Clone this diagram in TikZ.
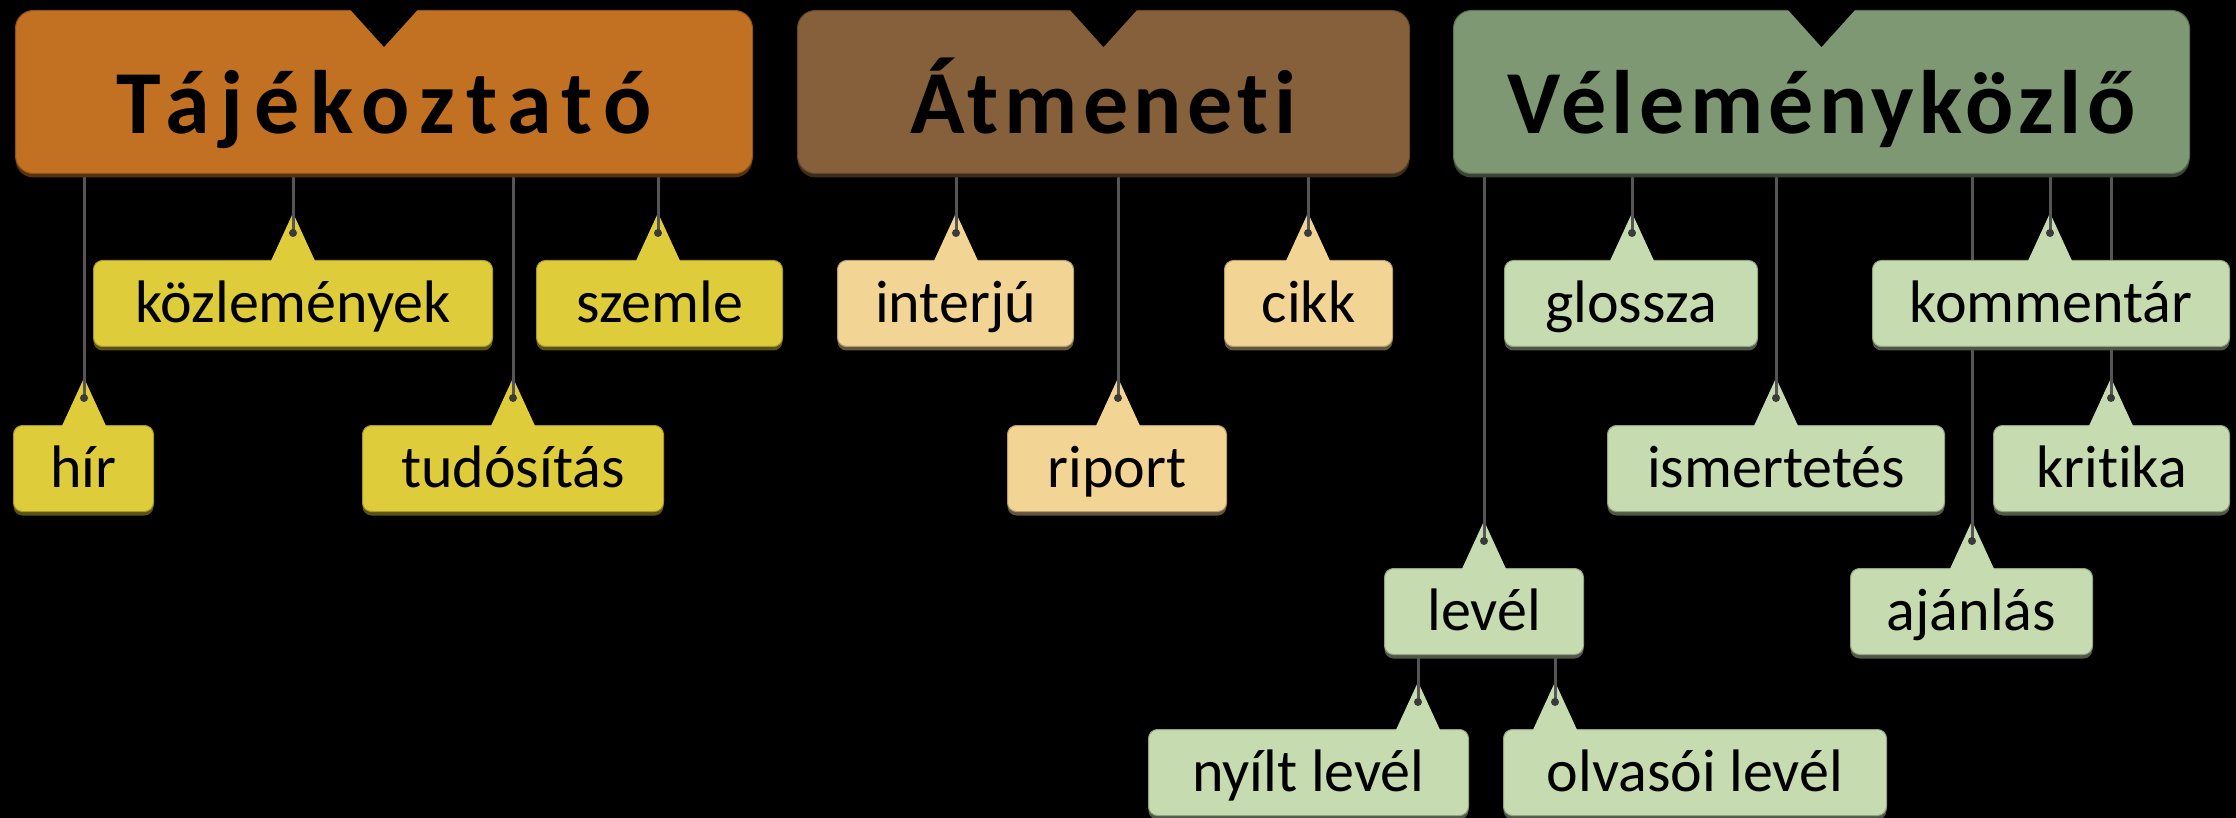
\documentclass[tikz,border=0pt]{standalone}
\usepackage{fontspec}
\setmainfont[Ligatures=NoCommon]{Carlito}
\newfontfamily\headA[LetterSpace=12,Ligatures=NoCommon]{Carlito}
\newfontfamily\headB[LetterSpace=6,Ligatures=NoCommon]{Carlito}
\usetikzlibrary{shadows}
\definecolor{hOrange}{HTML}{C27022}
\definecolor{hBrown}{HTML}{86603B}
\definecolor{hGreen}{HTML}{7E9873}
\definecolor{lYellow}{HTML}{DFCC3B}
\definecolor{lTan}{HTML}{F2D494}
\definecolor{lGreen}{HTML}{C6DBAF}
\definecolor{lineGray}{HTML}{555555}
\definecolor{dotGray}{HTML}{3A3A3A}
\pgfdeclarelayer{back}
\pgfdeclarelayer{bg}
\pgfsetlayers{back,bg,main}
\tikzset{
  leafbox/.style={rounded corners=9pt, inner sep=0pt, minimum height=86pt,
    text height=38pt, text depth=0pt, font=\fontsize{60}{70}\selectfont,
    line width=1pt, fill=#1, draw=#1!75!black,
    general shadow={fill=#1!40!black, shadow yshift=-4pt}},
  headbox/.style={rounded corners=18pt, inner sep=0pt, minimum height=163pt,
    text height=83pt, text depth=0pt, font=\fontsize{90}{100}\selectfont\bfseries,
    line width=1pt, fill=#1, draw=#1!75!black,
    general shadow={fill=#1!45!black, shadow yshift=-4pt}},
  conn/.style={draw=lineGray, line width=3pt},
}
% name, left, right, top, tab x, colour, text
\newcommand\leaf[7]{%
  \node[leafbox=#6, anchor=north west, minimum width={(#3)-(#2)}] (#1) at (#2,#4) {#7};
  \coordinate (#1-t) at (#5,#4-47);
  \coordinate (#1-d) at (#5,#4-27);
  \fill[#6] (#5-23,#4+3) -- (#1-t) -- (#5+23,#4+3) -- cycle;
  \draw[conn] (#1-t) -- (#1-d);
  \fill[dotGray] (#1-d) circle (4pt);
}
\newcommand\notch[1]{%
  \fill[black] ([xshift=-37pt,yshift=4pt]#1.north) -- ([yshift=-37pt]#1.north)
    -- ([xshift=37pt,yshift=4pt]#1.north) -- cycle;
}
\begin{document}
\begin{tikzpicture}[x=1pt,y=-1pt]
\begin{pgfonlayer}{back}
  \fill[black] (0,0) rectangle (2236,818);
\end{pgfonlayer}
\path[use as bounding box] (0,0) rectangle (2236,818);

\node[headbox=hOrange, anchor=north west, minimum width=737pt] (taj) at (15,10) {\headA Tájékoztató};
\node[headbox=hBrown, anchor=north west, minimum width=612pt] (atm) at (797,10) {\headB Átmeneti};
\node[headbox=hGreen, anchor=north west, minimum width=736pt] (vel) at (1453,10) {\headB Véleményközlő};
\notch{taj}\notch{atm}\notch{vel}

\leaf{kozl}{93}{492}{260}{293}{lYellow}{közlemények}
\leaf{szemle}{536}{782}{260}{658}{lYellow}{szemle}
\leaf{hir}{13}{153}{425}{84}{lYellow}{hír}
\leaf{tudo}{362}{663}{425}{513}{lYellow}{tudósítás}

\leaf{interju}{837}{1073}{260}{956}{lTan}{interjú}
\leaf{cikk}{1224}{1392}{260}{1308}{lTan}{cikk}
\leaf{riport}{1007}{1226}{425}{1118}{lTan}{riport}

\leaf{glossza}{1504}{1757}{260}{1632}{lGreen}{glossza}
\leaf{komm}{1872}{2229}{260}{2050}{lGreen}{kommentár}
\leaf{ismert}{1607}{1944}{425}{1776}{lGreen}{ismertetés}
\leaf{kritika}{1993}{2229}{425}{2111}{lGreen}{kritika}
\leaf{level}{1384}{1583}{568}{1484}{lGreen}{levél}
\leaf{ajanlas}{1850}{2092}{568}{1972}{lGreen}{ajánlás}
\leaf{nyilt}{1148}{1468}{729}{1418}{lGreen}{nyílt levél}
\leaf{olvasoi}{1503}{1886}{729}{1555}{lGreen}{olvasói levél}

\begin{pgfonlayer}{bg}
  \foreach \c in {kozl,szemle,hir,tudo} \draw[conn] (taj.south -| \c-d) -- (\c-d);
  \foreach \c in {interju,cikk,riport} \draw[conn] (atm.south -| \c-d) -- (\c-d);
  \foreach \c in {glossza,komm,ismert,kritika,level,ajanlas} \draw[conn] (vel.south -| \c-d) -- (\c-d);
  \foreach \c in {nyilt,olvasoi} \draw[conn] (level.south -| \c-d) -- (\c-d);
\end{pgfonlayer}
\end{tikzpicture}
\end{document}
